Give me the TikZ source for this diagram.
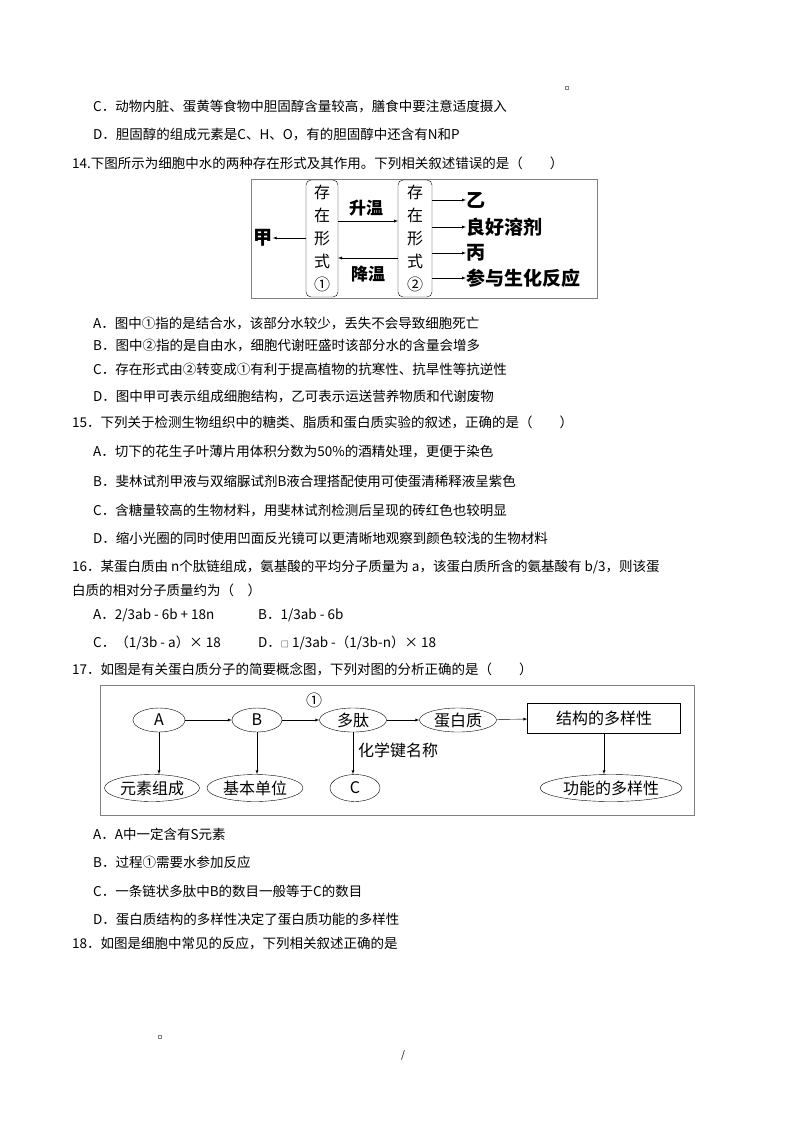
\documentclass[tikz,border=0pt]{standalone}
\usepackage{fontspec}
\usetikzlibrary{shapes.geometric}
\setmainfont{Noto Sans CJK SC}
\begin{document}
\begin{tikzpicture}[x=1pt,y=-1pt,
 t/.style={anchor=west,inner sep=0pt,font=\fontsize{13.5}{14}\selectfont},
 lb/.style={inner sep=0pt,font=\fontsize{17}{18}\selectfont\bfseries},
 ar/.style={-latex,thin},
 el/.style={draw,ellipse,inner sep=1pt,font=\fontsize{16}{17}\selectfont}]
\useasboundingbox (0,0) rectangle (800,1132);
\fill[white] (0,0) rectangle (800,1132);
\node[draw,gray,inner sep=1.5pt] (sq1) at (567,88) {};
\node[t] (c13) at (93,106) {C．动物内脏、蛋黄等食物中胆固醇含量较高，膳食中要注意适度摄入};
\node[t] (d13) at (93,135) {D．胆固醇的组成元素是C、H、O，有的胆固醇中还含有N和P};
\node[t] (q14) at (72,163) {14.下图所示为细胞中水的两种存在形式及其作用。下列相关叙述错误的是（　　）};
% diagram 14
\draw[gray] (251,179) rectangle (597,298);
\node[draw,rounded corners=5pt,minimum width=32pt,minimum height=117pt,inner sep=0pt,align=center,font=\fontsize{16}{23}\selectfont] (b1) at (322,238.5) {存\\在\\形\\式\\①};
\node[draw,rounded corners=5pt,minimum width=34pt,minimum height=117pt,inner sep=0pt,align=center,font=\fontsize{16}{23}\selectfont] (b2) at (415,238.5) {存\\在\\形\\式\\②};
\coordinate (u1) at (338,221); \coordinate (u2) at (398,221);
\draw[ar] (u1) -- (u2);
\node[lb] (sw) at (366,208) {升温};
\coordinate (d1) at (398,258); \coordinate (d2) at (338,258);
\draw[ar] (d1) -- (d2);
\node[lb] (jw) at (368,274) {降温};
\node[lb,font=\fontsize{19}{20}\selectfont\bfseries] (jia) at (263,238) {甲};
\draw[ar] (306,238) -- (jia.east);
\foreach \y/\s/\n in {200/乙/r1,227/良好溶剂/r2,253/丙/r3,278/参与生化反应/r4}{
 \node[lb,anchor=west,font=\fontsize{19}{20}\selectfont\bfseries] (\n) at (466,\y) {\s};
 \draw[ar] (432,\y) -- (\n.west);
}
\node[t] (a14) at (93,324) {A．图中①指的是结合水，该部分水较少，丢失不会导致细胞死亡};
\node[t] (b14) at (93,346) {B．图中②指的是自由水，细胞代谢旺盛时该部分水的含量会增多};
\node[t] (cc14) at (93,369) {C．存在形式由②转变成①有利于提高植物的抗寒性、抗旱性等抗逆性};
\node[t] (dd14) at (93,396) {D．图中甲可表示组成细胞结构，乙可表示运送营养物质和代谢废物};
\node[t] (q15) at (72,422) {15．下列关于检测生物组织中的糖类、脂质和蛋白质实验的叙述，正确的是（　　）};
\node[t] (a15) at (93,452) {A．切下的花生子叶薄片用体积分数为50\%的酒精处理，更便于染色};
\node[t] (b15) at (93,481) {B．斐林试剂甲液与双缩脲试剂B液合理搭配使用可使蛋清稀释液呈紫色};
\node[t] (c15) at (93,510) {C．含糖量较高的生物材料，用斐林试剂检测后呈现的砖红色也较明显};
\node[t] (d15) at (93,538) {D．缩小光圈的同时使用凹面反光镜可以更清晰地观察到颜色较浅的生物材料};
\node[t] (q16) at (72,567) {16．某蛋白质由 n个肽链组成，氨基酸的平均分子质量为 a，该蛋白质所含的氨基酸有 b/3，则该蛋};
\node[t] (q16b) at (72,590) {白质的相对分子质量约为（　）};
\node[t] (a16) at (93,615) {A．2/3ab - 6b + 18n};
\node[t] (b16) at (258,615) {B．1/3ab - 6b};
\node[t] (c16) at (93,643) {C．（1/3b - a）× 18};
\node[t] (d16) at (258,643) {D．{\fontsize{8}{8}\selectfont □} 1/3ab -（1/3b-n）× 18};
\node[t] (q17) at (72,669) {17．如图是有关蛋白质分子的简要概念图，下列对图的分析正确的是（　　）};
% diagram 17
\draw[gray] (100,685) rectangle (694,815);
\node[el,minimum width=52pt,minimum height=24pt] (A) at (159,720) {A};
\node[el,minimum width=50pt,minimum height=24pt] (B) at (257,720) {B};
\node[el,minimum width=67pt,minimum height=24pt] (dt) at (353,720) {多肽};
\node[el,minimum width=77pt,minimum height=24pt] (dbz) at (458,720) {蛋白质};
\node[draw,minimum width=153pt,minimum height=30pt,inner sep=1pt,font=\fontsize{16}{17}\selectfont] (jg) at (604,718) {结构的多样性};
\node[el,minimum width=95pt,minimum height=27pt] (ys) at (152,788) {元素组成};
\node[el,minimum width=96pt,minimum height=27pt] (jb) at (255,788) {基本单位};
\node[el,minimum width=50pt,minimum height=27pt] (C) at (355,788) {C};
\node[el,minimum width=142pt,minimum height=27pt] (gn) at (611,788) {功能的多样性};
\draw[ar] (A) -- (B);
\draw[ar] (B) -- (dt);
\draw[ar] (dt) -- (dbz);
\draw[ar] (dbz) -- (jg);
\draw[ar] (A.south) -- (A.south|-ys.north);
\draw[ar] (B.south) -- (B.south|-jb.north);
\draw[ar] (dt.south) -- (dt.south|-C.north);
\draw[ar] (jg.south) -- (jg.south|-gn.north);
\node[inner sep=0pt,font=\fontsize{16}{17}\selectfont] (one) at (314,700) {①};
\node[inner sep=0pt,anchor=west,font=\fontsize{16}{17}\selectfont] (hx) at (358,750) {化学键名称};
\node[t] (a17) at (93,834) {A．A中一定含有S元素};
\node[t] (b17) at (93,862) {B．过程①需要水参加反应};
\node[t] (c17) at (93,891) {C．一条链状多肽中B的数目一般等于C的数目};
\node[t] (d17) at (93,919) {D．蛋白质结构的多样性决定了蛋白质功能的多样性};
\node[t] (q18) at (72,943) {18．如图是细胞中常见的反应，下列相关叙述正确的是};
\node[draw,gray,inner sep=1.5pt] (sq2) at (160,1037) {};
\node[inner sep=0pt,font=\fontsize{10}{10}\selectfont] (sl) at (403,1055) {/};
\end{tikzpicture}
\end{document}
